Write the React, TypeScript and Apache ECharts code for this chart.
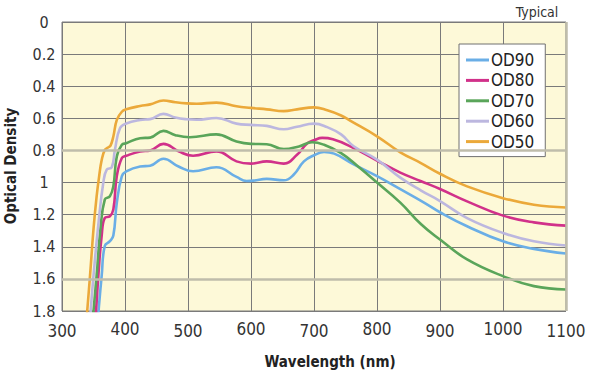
import React, { useEffect, useRef } from "react";
import * as echarts from "echarts";

const xTicks = [300, 400, 500, 600, 700, 800, 900, 1000, 1100];
const seriesNames = ["OD90", "OD80", "OD70", "OD60", "OD50"];
const seriesColors = ["#6aaee6", "#d1318a", "#5aa55a", "#bcb7df", "#eba93a"];

const od90: [number, number][] = [
  [354, 2.0], [358, 1.8], [363, 1.58], [368, 1.394], [376, 1.365], [381.5, 1.33], [387, 1.126],
  [395, 0.96], [402, 0.93], [424, 0.9], [440, 0.895], [461, 0.852], [485, 0.9], [508, 0.93],
  [545, 0.905], [577, 0.965], [593, 0.99], [604, 0.988], [625, 0.977], [652, 0.986], [668, 0.95],
  [684, 0.868], [700, 0.83], [716, 0.81], [732, 0.82], [763, 0.887], [800, 0.96], [837, 1.041],
  [874, 1.123], [900, 1.185], [943, 1.272], [1000, 1.366], [1049, 1.413], [1100, 1.442],
];
const od80: [number, number][] = [
  [350, 2.0], [354, 1.8], [357.7, 1.58], [363, 1.33], [368, 1.22], [376, 1.21], [381.5, 1.167],
  [387, 0.96], [395, 0.847], [402, 0.833], [424, 0.806], [440, 0.8], [461, 0.759], [485, 0.805],
  [508, 0.833], [545, 0.806], [577, 0.868], [600, 0.882], [625, 0.868], [652, 0.882], [673, 0.827],
  [689, 0.757], [700, 0.737], [713, 0.722], [730, 0.73], [763, 0.785], [800, 0.863], [837, 0.938],
  [869, 0.99], [900, 1.04], [943, 1.117], [1000, 1.206], [1049, 1.248], [1100, 1.268],
];
const od70: [number, number][] = [
  [346, 2.0], [350, 1.8], [355, 1.58], [361, 1.29], [368, 1.105], [376, 1.085], [381.5, 1.023],
  [387, 0.837], [395, 0.765], [402, 0.755], [424, 0.724], [440, 0.72], [461, 0.678], [480, 0.705],
  [503, 0.718], [545, 0.7], [577, 0.744], [600, 0.759], [625, 0.761], [652, 0.792], [676, 0.775],
  [697, 0.749], [716, 0.765], [743, 0.817], [770, 0.9], [800, 1.0], [837, 1.125], [870, 1.26],
  [900, 1.355], [943, 1.479], [1000, 1.583], [1049, 1.645], [1100, 1.666],
];
const od60: [number, number][] = [
  [342, 2.0], [345.5, 1.8], [350, 1.58], [358, 1.25], [365.6, 1.0], [371, 0.92], [379, 0.905],
  [384, 0.796], [392, 0.662], [402, 0.632], [424, 0.61], [440, 0.605], [461, 0.572], [480, 0.595],
  [498, 0.606], [514, 0.609], [545, 0.598], [577, 0.633], [600, 0.641], [625, 0.647], [652, 0.668],
  [673, 0.652], [700, 0.633], [721, 0.655], [743, 0.7], [763, 0.774], [800, 0.857], [837, 0.969],
  [870, 1.05], [900, 1.115], [943, 1.221], [1000, 1.314], [1049, 1.366], [1100, 1.392],
];
const od50: [number, number][] = [
  [336, 2.0], [340, 1.8], [344.5, 1.58], [350, 1.29], [355, 1.085], [359, 0.96], [363, 0.86],
  [368, 0.796], [373, 0.782], [377, 0.77], [381.5, 0.713], [387, 0.61], [395, 0.559], [402, 0.544],
  [424, 0.523], [440, 0.513], [461, 0.489], [480, 0.5], [498, 0.507], [514, 0.509], [545, 0.502],
  [577, 0.525], [600, 0.535], [625, 0.544], [652, 0.555], [673, 0.544], [700, 0.532], [721, 0.55],
  [743, 0.582], [758, 0.616], [800, 0.712], [837, 0.812], [869, 0.877], [900, 0.945], [943, 1.024],
  [1000, 1.097], [1049, 1.138], [1100, 1.155],
];
const seriesData = [od90, od80, od70, od60, od50];
const highlightY = [0.8, 1.6];

const FONT = "'Liberation Sans Narrow', 'Arial Narrow', 'DejaVu Sans Condensed', sans-serif";

export default function App() {
  const ref = useRef<HTMLDivElement>(null);
  useEffect(() => {
    if (!ref.current) return;
    const chart = echarts.init(ref.current, undefined, { renderer: "svg" });
    const lines = seriesNames.map((name, i) => ({
      name,
      type: "line",
      data: seriesData[i],
      smooth: 0.45,
      symbol: "none",
      clip: true,
      z: 3,
      lineStyle: { color: seriesColors[i], width: 2.6 },
      itemStyle: { color: seriesColors[i] },
    }));
    chart.setOption({
      animation: false,
      textStyle: { fontFamily: FONT },
      grid: {
        left: 62, right: 26, top: 22, bottom: 63,
        show: true, backgroundColor: "#fdf9d8", borderColor: "#7a7a7a", borderWidth: 1,
      },
      xAxis: {
        type: "value", min: 300, max: 1100, interval: 100,
        axisLine: { show: false }, axisTick: { show: false },
        splitLine: { show: true, lineStyle: { color: "#7a7a7a", width: 1 } },
        axisLabel: {
          margin: 9, color: "#333", fontFamily: FONT, fontSize: 17,
          formatter: (v: number) => {
            const idx = xTicks.indexOf(v);
            return idx % 2 === 0 ? `{lo|${v}}` : `{hi|${v}}`;
          },
          rich: {
            lo: { fontSize: 17, lineHeight: 18, padding: [4, 0, 0, 0], color: "#333", fontFamily: FONT },
            hi: { fontSize: 17, lineHeight: 18, color: "#333", fontFamily: FONT },
          },
        },
      },
      yAxis: {
        type: "value", inverse: true, min: 0, max: 1.8, interval: 0.2,
        axisLine: { show: false }, axisTick: { show: false },
        splitLine: { show: true, lineStyle: { color: "#7a7a7a", width: 1 } },
        axisLabel: {
          margin: 18, align: "center", color: "#333", fontFamily: FONT, fontSize: 16,
          formatter: (v: number) => String(Math.round(v * 10) / 10),
        },
      },
      legend: {
        data: seriesNames.map((n) => ({ name: n, icon: "rect" })),
        orient: "vertical", left: 459, top: 44,
        padding: [7, 11, 6, 7],
        backgroundColor: "#ffffff", borderColor: "#707070", borderWidth: 1, borderRadius: 0,
        itemWidth: 23, itemHeight: 3, itemGap: 2.4,
        textStyle: { fontFamily: FONT, fontSize: 17, lineHeight: 18, color: "#222", padding: [0, 0, 0, -3] },
      },
      graphic: [
        { type: "text", x: 537, y: 12, style: { text: "Typical", fontFamily: FONT, fontSize: 14, fill: "#333", textAlign: "center", textVerticalAlign: "middle" } },
        { type: "text", x: 330, y: 362, style: { text: "Wavelength (nm)", fontFamily: FONT, fontSize: 15, fontWeight: "bold", fill: "#222", textAlign: "center", textVerticalAlign: "middle" } },
        { type: "text", x: 11, y: 166, rotation: Math.PI / 2, style: { text: "Optical Density", fontFamily: FONT, fontSize: 15, fontWeight: "bold", fill: "#222", textAlign: "center", textVerticalAlign: "middle" } },
      ],
      series: [
        {
          name: "grid-accent", type: "line", data: [], z: 1, silent: true,
          markLine: {
            silent: true, symbol: "none", label: { show: false },
            lineStyle: { color: "#bfbdab", width: 2.5, type: "solid" },
            data: [...highlightY.map((y) => ({ yAxis: y })), { xAxis: 1100 }],
          },
        },
        ...lines,
      ],
    });
    return () => chart.dispose();
  }, []);
  return <div ref={ref} style={{ width: 592, height: 374, position: "absolute", left: 0, top: 0 }} />;
}
